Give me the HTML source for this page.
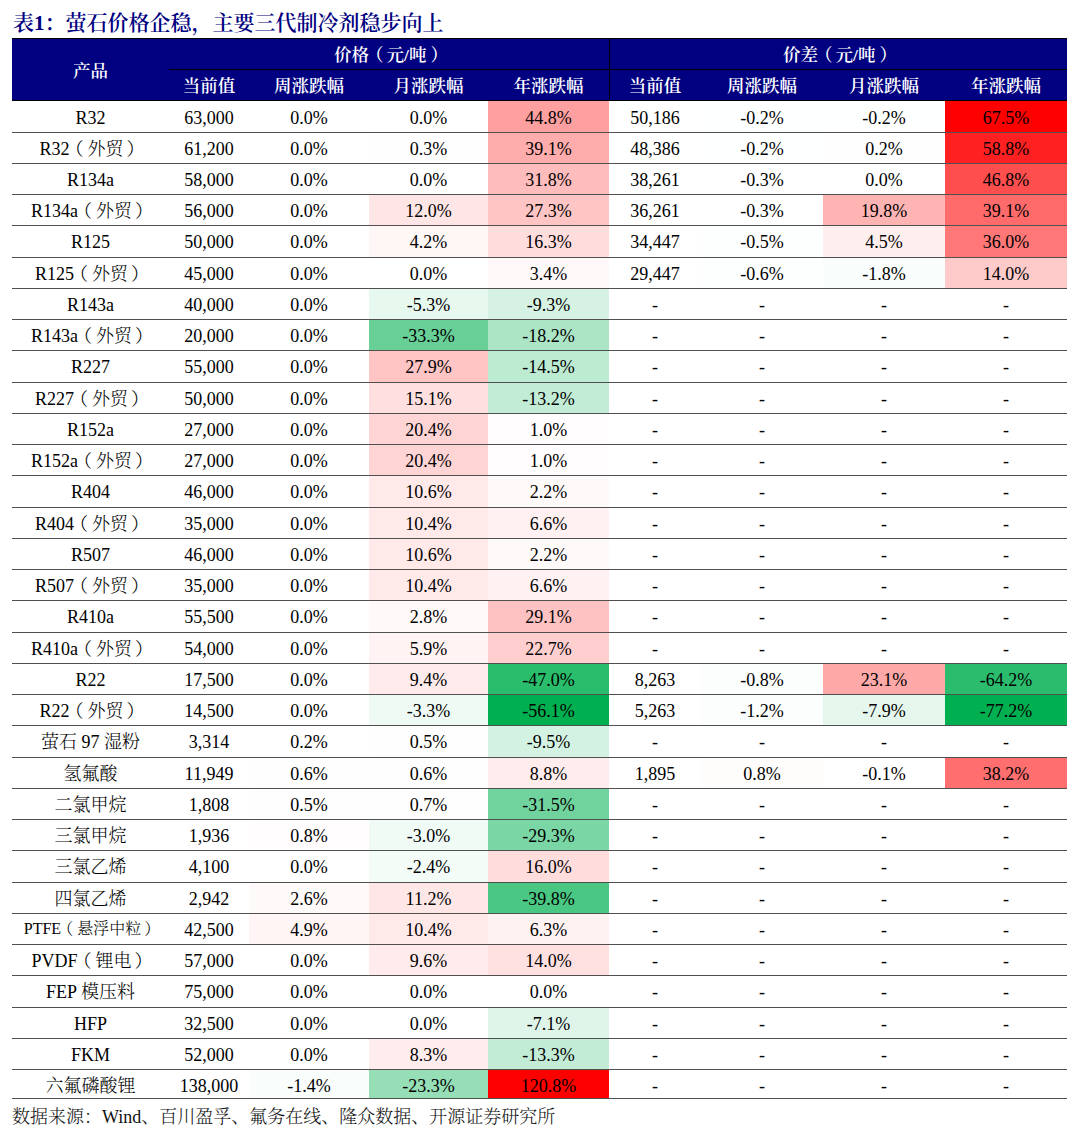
<!DOCTYPE html>
<html lang="zh-CN"><head><meta charset="utf-8"><title>表1</title>
<style>
html,body{margin:0;padding:0;background:#fff;}
body{width:1080px;height:1134px;position:relative;overflow:hidden;}
.title{position:absolute;left:13px;top:8px;font-family:"Liberation Serif","Noto Serif CJK SC",serif;font-weight:600;font-size:21px;line-height:30px;color:#000080;white-space:nowrap;}
.hdr{position:absolute;left:12px;top:38px;width:1055px;height:63px;background:#000080;border-top:1px solid #000;box-sizing:border-box;border-bottom:1px solid #000;}
.h{position:absolute;color:#fff;font-family:"Liberation Serif","Noto Serif CJK SC",serif;font-weight:600;font-size:17.5px;text-align:center;white-space:nowrap;}
.hl{position:absolute;background:#000;}
.bg{position:absolute;}
.c{position:absolute;text-align:center;font-family:"Liberation Serif","Noto Serif CJK SC",serif;font-size:18px;line-height:31px;color:#000;white-space:nowrap;font-weight:300;}
.lp{position:relative;left:-4px;}
.rp{position:relative;left:3px;}
.h .lp{left:-3px;}
.h .rp{left:4px;}
.ln{position:absolute;left:12px;width:1055px;height:1px;background:#505050;}
.src{position:absolute;left:12px;top:1105px;font-family:"Liberation Serif","Noto Serif CJK SC",serif;font-size:18px;line-height:24px;color:#111;font-weight:300;white-space:nowrap;}
</style></head><body>
<div class="title">表1：萤石价格企稳，主要三代制冷剂稳步向上</div>
<div class="hdr"></div>
<div class="hl" style="left:169px;top:69px;width:898px;height:1px"></div>
<div class="hl" style="left:609px;top:38px;width:1px;height:63px"></div>
<div class="h" style="left:12px;width:157px;top:58px;line-height:26px">产品</div>
<div class="h" style="left:169px;width:440px;top:40.5px;line-height:28px">价格<span class="lp">（</span>元/吨<span class="rp">）</span></div>
<div class="h" style="left:609px;width:458px;top:40.5px;line-height:28px">价差<span class="lp">（</span>元/吨<span class="rp">）</span></div>
<div class="h" style="left:169px;width:80px;top:72px;line-height:29px">当前值</div>
<div class="h" style="left:249px;width:120px;top:72px;line-height:29px">周涨跌幅</div>
<div class="h" style="left:369px;width:119px;top:72px;line-height:29px">月涨跌幅</div>
<div class="h" style="left:488px;width:121px;top:72px;line-height:29px">年涨跌幅</div>
<div class="h" style="left:609px;width:92px;top:72px;line-height:29px">当前值</div>
<div class="h" style="left:701px;width:122px;top:72px;line-height:29px">周涨跌幅</div>
<div class="h" style="left:823px;width:122px;top:72px;line-height:29px">月涨跌幅</div>
<div class="h" style="left:945px;width:122px;top:72px;line-height:29px">年涨跌幅</div>
<div class="c" style="left:12px;top:102.95px;width:157px;">R32</div>
<div class="c" style="left:169px;top:102.95px;width:80px;">63,000</div>
<div class="c" style="left:249px;top:102.95px;width:120px;">0.0%</div>
<div class="c" style="left:369px;top:102.95px;width:119px;">0.0%</div>
<div class="bg" style="left:488px;top:101px;width:121px;height:31px;background:#ffa0a0"></div>
<div class="c" style="left:488px;top:102.95px;width:121px;">44.8%</div>
<div class="c" style="left:609px;top:102.95px;width:92px;">50,186</div>
<div class="bg" style="left:701px;top:101px;width:122px;height:31px;background:#feffff"></div>
<div class="c" style="left:701px;top:102.95px;width:122px;">-0.2%</div>
<div class="bg" style="left:823px;top:101px;width:122px;height:31px;background:#feffff"></div>
<div class="c" style="left:823px;top:102.95px;width:122px;">-0.2%</div>
<div class="bg" style="left:945px;top:101px;width:122px;height:31px;background:#ff0000"></div>
<div class="c" style="left:945px;top:102.95px;width:122px;">67.5%</div>
<div class="c" style="left:12px;top:134.20px;width:157px;">R32<span class="lp">（</span>外贸<span class="rp">）</span></div>
<div class="c" style="left:169px;top:134.20px;width:80px;">61,200</div>
<div class="c" style="left:249px;top:134.20px;width:120px;">0.0%</div>
<div class="bg" style="left:369px;top:133px;width:119px;height:30px;background:#fffefe"></div>
<div class="c" style="left:369px;top:134.20px;width:119px;">0.3%</div>
<div class="bg" style="left:488px;top:133px;width:121px;height:30px;background:#ffacac"></div>
<div class="c" style="left:488px;top:134.20px;width:121px;">39.1%</div>
<div class="c" style="left:609px;top:134.20px;width:92px;">48,386</div>
<div class="bg" style="left:701px;top:133px;width:122px;height:30px;background:#feffff"></div>
<div class="c" style="left:701px;top:134.20px;width:122px;">-0.2%</div>
<div class="bg" style="left:823px;top:133px;width:122px;height:30px;background:#fffefe"></div>
<div class="c" style="left:823px;top:134.20px;width:122px;">0.2%</div>
<div class="bg" style="left:945px;top:133px;width:122px;height:30px;background:#ff2121"></div>
<div class="c" style="left:945px;top:134.20px;width:122px;">58.8%</div>
<div class="c" style="left:12px;top:165.00px;width:157px;">R134a</div>
<div class="c" style="left:169px;top:165.00px;width:80px;">58,000</div>
<div class="c" style="left:249px;top:165.00px;width:120px;">0.0%</div>
<div class="c" style="left:369px;top:165.00px;width:119px;">0.0%</div>
<div class="bg" style="left:488px;top:164px;width:121px;height:30px;background:#ffbcbc"></div>
<div class="c" style="left:488px;top:165.00px;width:121px;">31.8%</div>
<div class="c" style="left:609px;top:165.00px;width:92px;">38,261</div>
<div class="bg" style="left:701px;top:164px;width:122px;height:30px;background:#fefffe"></div>
<div class="c" style="left:701px;top:165.00px;width:122px;">-0.3%</div>
<div class="c" style="left:823px;top:165.00px;width:122px;">0.0%</div>
<div class="bg" style="left:945px;top:164px;width:122px;height:30px;background:#ff4e4e"></div>
<div class="c" style="left:945px;top:165.00px;width:122px;">46.8%</div>
<div class="c" style="left:12px;top:196.20px;width:157px;">R134a<span class="lp">（</span>外贸<span class="rp">）</span></div>
<div class="c" style="left:169px;top:196.20px;width:80px;">56,000</div>
<div class="c" style="left:249px;top:196.20px;width:120px;">0.0%</div>
<div class="bg" style="left:369px;top:195px;width:119px;height:30px;background:#ffe6e6"></div>
<div class="c" style="left:369px;top:196.20px;width:119px;">12.0%</div>
<div class="bg" style="left:488px;top:195px;width:121px;height:30px;background:#ffc5c5"></div>
<div class="c" style="left:488px;top:196.20px;width:121px;">27.3%</div>
<div class="c" style="left:609px;top:196.20px;width:92px;">36,261</div>
<div class="bg" style="left:701px;top:195px;width:122px;height:30px;background:#fefffe"></div>
<div class="c" style="left:701px;top:196.20px;width:122px;">-0.3%</div>
<div class="bg" style="left:823px;top:195px;width:122px;height:30px;background:#ffb4b4"></div>
<div class="c" style="left:823px;top:196.20px;width:122px;">19.8%</div>
<div class="bg" style="left:945px;top:195px;width:122px;height:30px;background:#ff6b6b"></div>
<div class="c" style="left:945px;top:196.20px;width:122px;">39.1%</div>
<div class="c" style="left:12px;top:227.25px;width:157px;">R125</div>
<div class="c" style="left:169px;top:227.25px;width:80px;">50,000</div>
<div class="c" style="left:249px;top:227.25px;width:120px;">0.0%</div>
<div class="bg" style="left:369px;top:226px;width:119px;height:31px;background:#fff6f6"></div>
<div class="c" style="left:369px;top:227.25px;width:119px;">4.2%</div>
<div class="bg" style="left:488px;top:226px;width:121px;height:31px;background:#ffdddd"></div>
<div class="c" style="left:488px;top:227.25px;width:121px;">16.3%</div>
<div class="c" style="left:609px;top:227.25px;width:92px;">34,447</div>
<div class="bg" style="left:701px;top:226px;width:122px;height:31px;background:#fdfefe"></div>
<div class="c" style="left:701px;top:227.25px;width:122px;">-0.5%</div>
<div class="bg" style="left:823px;top:226px;width:122px;height:31px;background:#ffeeee"></div>
<div class="c" style="left:823px;top:227.25px;width:122px;">4.5%</div>
<div class="bg" style="left:945px;top:226px;width:122px;height:31px;background:#ff7777"></div>
<div class="c" style="left:945px;top:227.25px;width:122px;">36.0%</div>
<div class="c" style="left:12px;top:259.20px;width:157px;">R125<span class="lp">（</span>外贸<span class="rp">）</span></div>
<div class="c" style="left:169px;top:259.20px;width:80px;">45,000</div>
<div class="c" style="left:249px;top:259.20px;width:120px;">0.0%</div>
<div class="c" style="left:369px;top:259.20px;width:119px;">0.0%</div>
<div class="bg" style="left:488px;top:258px;width:121px;height:30px;background:#fff8f8"></div>
<div class="c" style="left:488px;top:259.20px;width:121px;">3.4%</div>
<div class="c" style="left:609px;top:259.20px;width:92px;">29,447</div>
<div class="bg" style="left:701px;top:258px;width:122px;height:30px;background:#fdfefe"></div>
<div class="c" style="left:701px;top:259.20px;width:122px;">-0.6%</div>
<div class="bg" style="left:823px;top:258px;width:122px;height:30px;background:#f9fdfb"></div>
<div class="c" style="left:823px;top:259.20px;width:122px;">-1.8%</div>
<div class="bg" style="left:945px;top:258px;width:122px;height:30px;background:#ffcaca"></div>
<div class="c" style="left:945px;top:259.20px;width:122px;">14.0%</div>
<div class="c" style="left:12px;top:290.00px;width:157px;">R143a</div>
<div class="c" style="left:169px;top:290.00px;width:80px;">40,000</div>
<div class="c" style="left:249px;top:290.00px;width:120px;">0.0%</div>
<div class="bg" style="left:369px;top:289px;width:119px;height:30px;background:#e7f8ee"></div>
<div class="c" style="left:369px;top:290.00px;width:119px;">-5.3%</div>
<div class="bg" style="left:488px;top:289px;width:121px;height:30px;background:#d5f2e2"></div>
<div class="c" style="left:488px;top:290.00px;width:121px;">-9.3%</div>
<div class="c" style="left:609px;top:290.00px;width:92px;">-</div>
<div class="c" style="left:701px;top:290.00px;width:122px;">-</div>
<div class="c" style="left:823px;top:290.00px;width:122px;">-</div>
<div class="c" style="left:945px;top:290.00px;width:122px;">-</div>
<div class="c" style="left:12px;top:321.20px;width:157px;">R143a<span class="lp">（</span>外贸<span class="rp">）</span></div>
<div class="c" style="left:169px;top:321.20px;width:80px;">20,000</div>
<div class="c" style="left:249px;top:321.20px;width:120px;">0.0%</div>
<div class="bg" style="left:369px;top:320px;width:119px;height:30px;background:#68d097"></div>
<div class="c" style="left:369px;top:321.20px;width:119px;">-33.3%</div>
<div class="bg" style="left:488px;top:320px;width:121px;height:30px;background:#ace5c6"></div>
<div class="c" style="left:488px;top:321.20px;width:121px;">-18.2%</div>
<div class="c" style="left:609px;top:321.20px;width:92px;">-</div>
<div class="c" style="left:701px;top:321.20px;width:122px;">-</div>
<div class="c" style="left:823px;top:321.20px;width:122px;">-</div>
<div class="c" style="left:945px;top:321.20px;width:122px;">-</div>
<div class="c" style="left:12px;top:352.25px;width:157px;">R227</div>
<div class="c" style="left:169px;top:352.25px;width:80px;">55,000</div>
<div class="c" style="left:249px;top:352.25px;width:120px;">0.0%</div>
<div class="bg" style="left:369px;top:351px;width:119px;height:31px;background:#ffc4c4"></div>
<div class="c" style="left:369px;top:352.25px;width:119px;">27.9%</div>
<div class="bg" style="left:488px;top:351px;width:121px;height:31px;background:#bdebd2"></div>
<div class="c" style="left:488px;top:352.25px;width:121px;">-14.5%</div>
<div class="c" style="left:609px;top:352.25px;width:92px;">-</div>
<div class="c" style="left:701px;top:352.25px;width:122px;">-</div>
<div class="c" style="left:823px;top:352.25px;width:122px;">-</div>
<div class="c" style="left:945px;top:352.25px;width:122px;">-</div>
<div class="c" style="left:12px;top:384.20px;width:157px;">R227<span class="lp">（</span>外贸<span class="rp">）</span></div>
<div class="c" style="left:169px;top:384.20px;width:80px;">50,000</div>
<div class="c" style="left:249px;top:384.20px;width:120px;">0.0%</div>
<div class="bg" style="left:369px;top:383px;width:119px;height:30px;background:#ffdfdf"></div>
<div class="c" style="left:369px;top:384.20px;width:119px;">15.1%</div>
<div class="bg" style="left:488px;top:383px;width:121px;height:30px;background:#c3ecd6"></div>
<div class="c" style="left:488px;top:384.20px;width:121px;">-13.2%</div>
<div class="c" style="left:609px;top:384.20px;width:92px;">-</div>
<div class="c" style="left:701px;top:384.20px;width:122px;">-</div>
<div class="c" style="left:823px;top:384.20px;width:122px;">-</div>
<div class="c" style="left:945px;top:384.20px;width:122px;">-</div>
<div class="c" style="left:12px;top:415.00px;width:157px;">R152a</div>
<div class="c" style="left:169px;top:415.00px;width:80px;">27,000</div>
<div class="c" style="left:249px;top:415.00px;width:120px;">0.0%</div>
<div class="bg" style="left:369px;top:414px;width:119px;height:30px;background:#ffd4d4"></div>
<div class="c" style="left:369px;top:415.00px;width:119px;">20.4%</div>
<div class="bg" style="left:488px;top:414px;width:121px;height:30px;background:#fffdfd"></div>
<div class="c" style="left:488px;top:415.00px;width:121px;">1.0%</div>
<div class="c" style="left:609px;top:415.00px;width:92px;">-</div>
<div class="c" style="left:701px;top:415.00px;width:122px;">-</div>
<div class="c" style="left:823px;top:415.00px;width:122px;">-</div>
<div class="c" style="left:945px;top:415.00px;width:122px;">-</div>
<div class="c" style="left:12px;top:446.20px;width:157px;">R152a<span class="lp">（</span>外贸<span class="rp">）</span></div>
<div class="c" style="left:169px;top:446.20px;width:80px;">27,000</div>
<div class="c" style="left:249px;top:446.20px;width:120px;">0.0%</div>
<div class="bg" style="left:369px;top:445px;width:119px;height:30px;background:#ffd4d4"></div>
<div class="c" style="left:369px;top:446.20px;width:119px;">20.4%</div>
<div class="bg" style="left:488px;top:445px;width:121px;height:30px;background:#fffdfd"></div>
<div class="c" style="left:488px;top:446.20px;width:121px;">1.0%</div>
<div class="c" style="left:609px;top:446.20px;width:92px;">-</div>
<div class="c" style="left:701px;top:446.20px;width:122px;">-</div>
<div class="c" style="left:823px;top:446.20px;width:122px;">-</div>
<div class="c" style="left:945px;top:446.20px;width:122px;">-</div>
<div class="c" style="left:12px;top:477.25px;width:157px;">R404</div>
<div class="c" style="left:169px;top:477.25px;width:80px;">46,000</div>
<div class="c" style="left:249px;top:477.25px;width:120px;">0.0%</div>
<div class="bg" style="left:369px;top:476px;width:119px;height:31px;background:#ffe9e9"></div>
<div class="c" style="left:369px;top:477.25px;width:119px;">10.6%</div>
<div class="bg" style="left:488px;top:476px;width:121px;height:31px;background:#fffafa"></div>
<div class="c" style="left:488px;top:477.25px;width:121px;">2.2%</div>
<div class="c" style="left:609px;top:477.25px;width:92px;">-</div>
<div class="c" style="left:701px;top:477.25px;width:122px;">-</div>
<div class="c" style="left:823px;top:477.25px;width:122px;">-</div>
<div class="c" style="left:945px;top:477.25px;width:122px;">-</div>
<div class="c" style="left:12px;top:509.20px;width:157px;">R404<span class="lp">（</span>外贸<span class="rp">）</span></div>
<div class="c" style="left:169px;top:509.20px;width:80px;">35,000</div>
<div class="c" style="left:249px;top:509.20px;width:120px;">0.0%</div>
<div class="bg" style="left:369px;top:508px;width:119px;height:30px;background:#ffe9e9"></div>
<div class="c" style="left:369px;top:509.20px;width:119px;">10.4%</div>
<div class="bg" style="left:488px;top:508px;width:121px;height:30px;background:#fff1f1"></div>
<div class="c" style="left:488px;top:509.20px;width:121px;">6.6%</div>
<div class="c" style="left:609px;top:509.20px;width:92px;">-</div>
<div class="c" style="left:701px;top:509.20px;width:122px;">-</div>
<div class="c" style="left:823px;top:509.20px;width:122px;">-</div>
<div class="c" style="left:945px;top:509.20px;width:122px;">-</div>
<div class="c" style="left:12px;top:540.00px;width:157px;">R507</div>
<div class="c" style="left:169px;top:540.00px;width:80px;">46,000</div>
<div class="c" style="left:249px;top:540.00px;width:120px;">0.0%</div>
<div class="bg" style="left:369px;top:539px;width:119px;height:30px;background:#ffe9e9"></div>
<div class="c" style="left:369px;top:540.00px;width:119px;">10.6%</div>
<div class="bg" style="left:488px;top:539px;width:121px;height:30px;background:#fffafa"></div>
<div class="c" style="left:488px;top:540.00px;width:121px;">2.2%</div>
<div class="c" style="left:609px;top:540.00px;width:92px;">-</div>
<div class="c" style="left:701px;top:540.00px;width:122px;">-</div>
<div class="c" style="left:823px;top:540.00px;width:122px;">-</div>
<div class="c" style="left:945px;top:540.00px;width:122px;">-</div>
<div class="c" style="left:12px;top:571.20px;width:157px;">R507<span class="lp">（</span>外贸<span class="rp">）</span></div>
<div class="c" style="left:169px;top:571.20px;width:80px;">35,000</div>
<div class="c" style="left:249px;top:571.20px;width:120px;">0.0%</div>
<div class="bg" style="left:369px;top:570px;width:119px;height:30px;background:#ffe9e9"></div>
<div class="c" style="left:369px;top:571.20px;width:119px;">10.4%</div>
<div class="bg" style="left:488px;top:570px;width:121px;height:30px;background:#fff1f1"></div>
<div class="c" style="left:488px;top:571.20px;width:121px;">6.6%</div>
<div class="c" style="left:609px;top:571.20px;width:92px;">-</div>
<div class="c" style="left:701px;top:571.20px;width:122px;">-</div>
<div class="c" style="left:823px;top:571.20px;width:122px;">-</div>
<div class="c" style="left:945px;top:571.20px;width:122px;">-</div>
<div class="c" style="left:12px;top:602.25px;width:157px;">R410a</div>
<div class="c" style="left:169px;top:602.25px;width:80px;">55,500</div>
<div class="c" style="left:249px;top:602.25px;width:120px;">0.0%</div>
<div class="bg" style="left:369px;top:601px;width:119px;height:31px;background:#fff9f9"></div>
<div class="c" style="left:369px;top:602.25px;width:119px;">2.8%</div>
<div class="bg" style="left:488px;top:601px;width:121px;height:31px;background:#ffc2c2"></div>
<div class="c" style="left:488px;top:602.25px;width:121px;">29.1%</div>
<div class="c" style="left:609px;top:602.25px;width:92px;">-</div>
<div class="c" style="left:701px;top:602.25px;width:122px;">-</div>
<div class="c" style="left:823px;top:602.25px;width:122px;">-</div>
<div class="c" style="left:945px;top:602.25px;width:122px;">-</div>
<div class="c" style="left:12px;top:634.20px;width:157px;">R410a<span class="lp">（</span>外贸<span class="rp">）</span></div>
<div class="c" style="left:169px;top:634.20px;width:80px;">54,000</div>
<div class="c" style="left:249px;top:634.20px;width:120px;">0.0%</div>
<div class="bg" style="left:369px;top:633px;width:119px;height:30px;background:#fff3f3"></div>
<div class="c" style="left:369px;top:634.20px;width:119px;">5.9%</div>
<div class="bg" style="left:488px;top:633px;width:121px;height:30px;background:#ffcfcf"></div>
<div class="c" style="left:488px;top:634.20px;width:121px;">22.7%</div>
<div class="c" style="left:609px;top:634.20px;width:92px;">-</div>
<div class="c" style="left:701px;top:634.20px;width:122px;">-</div>
<div class="c" style="left:823px;top:634.20px;width:122px;">-</div>
<div class="c" style="left:945px;top:634.20px;width:122px;">-</div>
<div class="c" style="left:12px;top:665.00px;width:157px;">R22</div>
<div class="c" style="left:169px;top:665.00px;width:80px;">17,500</div>
<div class="c" style="left:249px;top:665.00px;width:120px;">0.0%</div>
<div class="bg" style="left:369px;top:664px;width:119px;height:30px;background:#ffebeb"></div>
<div class="c" style="left:369px;top:665.00px;width:119px;">9.4%</div>
<div class="bg" style="left:488px;top:664px;width:121px;height:30px;background:#29bd6c"></div>
<div class="c" style="left:488px;top:665.00px;width:121px;">-47.0%</div>
<div class="c" style="left:609px;top:665.00px;width:92px;">8,263</div>
<div class="bg" style="left:701px;top:664px;width:122px;height:30px;background:#fcfefd"></div>
<div class="c" style="left:701px;top:665.00px;width:122px;">-0.8%</div>
<div class="bg" style="left:823px;top:664px;width:122px;height:30px;background:#ffa8a8"></div>
<div class="c" style="left:823px;top:665.00px;width:122px;">23.1%</div>
<div class="bg" style="left:945px;top:664px;width:122px;height:30px;background:#2bbd6d"></div>
<div class="c" style="left:945px;top:665.00px;width:122px;">-64.2%</div>
<div class="c" style="left:12px;top:696.20px;width:157px;">R22<span class="lp">（</span>外贸<span class="rp">）</span></div>
<div class="c" style="left:169px;top:696.20px;width:80px;">14,500</div>
<div class="c" style="left:249px;top:696.20px;width:120px;">0.0%</div>
<div class="bg" style="left:369px;top:695px;width:119px;height:30px;background:#f0faf5"></div>
<div class="c" style="left:369px;top:696.20px;width:119px;">-3.3%</div>
<div class="bg" style="left:488px;top:695px;width:121px;height:30px;background:#00b050"></div>
<div class="c" style="left:488px;top:696.20px;width:121px;">-56.1%</div>
<div class="c" style="left:609px;top:696.20px;width:92px;">5,263</div>
<div class="bg" style="left:701px;top:695px;width:122px;height:30px;background:#fbfefc"></div>
<div class="c" style="left:701px;top:696.20px;width:122px;">-1.2%</div>
<div class="bg" style="left:823px;top:695px;width:122px;height:30px;background:#e5f7ed"></div>
<div class="c" style="left:823px;top:696.20px;width:122px;">-7.9%</div>
<div class="bg" style="left:945px;top:695px;width:122px;height:30px;background:#00b050"></div>
<div class="c" style="left:945px;top:696.20px;width:122px;">-77.2%</div>
<div class="c" style="left:12px;top:727.25px;width:157px;">萤石 97 湿粉</div>
<div class="c" style="left:169px;top:727.25px;width:80px;">3,314</div>
<div class="c" style="left:249px;top:727.25px;width:120px;">0.2%</div>
<div class="bg" style="left:369px;top:726px;width:119px;height:31px;background:#fffefe"></div>
<div class="c" style="left:369px;top:727.25px;width:119px;">0.5%</div>
<div class="bg" style="left:488px;top:726px;width:121px;height:31px;background:#d4f2e1"></div>
<div class="c" style="left:488px;top:727.25px;width:121px;">-9.5%</div>
<div class="c" style="left:609px;top:727.25px;width:92px;">-</div>
<div class="c" style="left:701px;top:727.25px;width:122px;">-</div>
<div class="c" style="left:823px;top:727.25px;width:122px;">-</div>
<div class="c" style="left:945px;top:727.25px;width:122px;">-</div>
<div class="c" style="left:12px;top:759.20px;width:157px;">氢氟酸</div>
<div class="c" style="left:169px;top:759.20px;width:80px;">11,949</div>
<div class="bg" style="left:249px;top:758px;width:120px;height:30px;background:#fffefe"></div>
<div class="c" style="left:249px;top:759.20px;width:120px;">0.6%</div>
<div class="bg" style="left:369px;top:758px;width:119px;height:30px;background:#fffefe"></div>
<div class="c" style="left:369px;top:759.20px;width:119px;">0.6%</div>
<div class="bg" style="left:488px;top:758px;width:121px;height:30px;background:#ffecec"></div>
<div class="c" style="left:488px;top:759.20px;width:121px;">8.8%</div>
<div class="c" style="left:609px;top:759.20px;width:92px;">1,895</div>
<div class="bg" style="left:701px;top:758px;width:122px;height:30px;background:#fffcfc"></div>
<div class="c" style="left:701px;top:759.20px;width:122px;">0.8%</div>
<div class="c" style="left:823px;top:759.20px;width:122px;">-0.1%</div>
<div class="bg" style="left:945px;top:758px;width:122px;height:30px;background:#ff6f6f"></div>
<div class="c" style="left:945px;top:759.20px;width:122px;">38.2%</div>
<div class="c" style="left:12px;top:790.00px;width:157px;">二氯甲烷</div>
<div class="c" style="left:169px;top:790.00px;width:80px;">1,808</div>
<div class="bg" style="left:249px;top:789px;width:120px;height:30px;background:#fffefe"></div>
<div class="c" style="left:249px;top:790.00px;width:120px;">0.5%</div>
<div class="bg" style="left:369px;top:789px;width:119px;height:30px;background:#fffefe"></div>
<div class="c" style="left:369px;top:790.00px;width:119px;">0.7%</div>
<div class="bg" style="left:488px;top:789px;width:121px;height:30px;background:#70d39d"></div>
<div class="c" style="left:488px;top:790.00px;width:121px;">-31.5%</div>
<div class="c" style="left:609px;top:790.00px;width:92px;">-</div>
<div class="c" style="left:701px;top:790.00px;width:122px;">-</div>
<div class="c" style="left:823px;top:790.00px;width:122px;">-</div>
<div class="c" style="left:945px;top:790.00px;width:122px;">-</div>
<div class="c" style="left:12px;top:821.20px;width:157px;">三氯甲烷</div>
<div class="c" style="left:169px;top:821.20px;width:80px;">1,936</div>
<div class="bg" style="left:249px;top:820px;width:120px;height:30px;background:#fffdfd"></div>
<div class="c" style="left:249px;top:821.20px;width:120px;">0.8%</div>
<div class="bg" style="left:369px;top:820px;width:119px;height:30px;background:#f1fbf6"></div>
<div class="c" style="left:369px;top:821.20px;width:119px;">-3.0%</div>
<div class="bg" style="left:488px;top:820px;width:121px;height:30px;background:#7ad6a4"></div>
<div class="c" style="left:488px;top:821.20px;width:121px;">-29.3%</div>
<div class="c" style="left:609px;top:821.20px;width:92px;">-</div>
<div class="c" style="left:701px;top:821.20px;width:122px;">-</div>
<div class="c" style="left:823px;top:821.20px;width:122px;">-</div>
<div class="c" style="left:945px;top:821.20px;width:122px;">-</div>
<div class="c" style="left:12px;top:852.25px;width:157px;">三氯乙烯</div>
<div class="c" style="left:169px;top:852.25px;width:80px;">4,100</div>
<div class="c" style="left:249px;top:852.25px;width:120px;">0.0%</div>
<div class="bg" style="left:369px;top:851px;width:119px;height:31px;background:#f4fcf8"></div>
<div class="c" style="left:369px;top:852.25px;width:119px;">-2.4%</div>
<div class="bg" style="left:488px;top:851px;width:121px;height:31px;background:#ffdddd"></div>
<div class="c" style="left:488px;top:852.25px;width:121px;">16.0%</div>
<div class="c" style="left:609px;top:852.25px;width:92px;">-</div>
<div class="c" style="left:701px;top:852.25px;width:122px;">-</div>
<div class="c" style="left:823px;top:852.25px;width:122px;">-</div>
<div class="c" style="left:945px;top:852.25px;width:122px;">-</div>
<div class="c" style="left:12px;top:884.20px;width:157px;">四氯乙烯</div>
<div class="c" style="left:169px;top:884.20px;width:80px;">2,942</div>
<div class="bg" style="left:249px;top:883px;width:120px;height:30px;background:#fffafa"></div>
<div class="c" style="left:249px;top:884.20px;width:120px;">2.6%</div>
<div class="bg" style="left:369px;top:883px;width:119px;height:30px;background:#ffe7e7"></div>
<div class="c" style="left:369px;top:884.20px;width:119px;">11.2%</div>
<div class="bg" style="left:488px;top:883px;width:121px;height:30px;background:#4ac783"></div>
<div class="c" style="left:488px;top:884.20px;width:121px;">-39.8%</div>
<div class="c" style="left:609px;top:884.20px;width:92px;">-</div>
<div class="c" style="left:701px;top:884.20px;width:122px;">-</div>
<div class="c" style="left:823px;top:884.20px;width:122px;">-</div>
<div class="c" style="left:945px;top:884.20px;width:122px;">-</div>
<div class="c" style="left:12px;top:915.00px;width:157px;font-size:16px;margin-top:-2px;">PTFE<span class="lp">（</span>悬浮中粒<span class="rp">）</span></div>
<div class="c" style="left:169px;top:915.00px;width:80px;">42,500</div>
<div class="bg" style="left:249px;top:914px;width:120px;height:30px;background:#fff5f5"></div>
<div class="c" style="left:249px;top:915.00px;width:120px;">4.9%</div>
<div class="bg" style="left:369px;top:914px;width:119px;height:30px;background:#ffe9e9"></div>
<div class="c" style="left:369px;top:915.00px;width:119px;">10.4%</div>
<div class="bg" style="left:488px;top:914px;width:121px;height:30px;background:#fff2f2"></div>
<div class="c" style="left:488px;top:915.00px;width:121px;">6.3%</div>
<div class="c" style="left:609px;top:915.00px;width:92px;">-</div>
<div class="c" style="left:701px;top:915.00px;width:122px;">-</div>
<div class="c" style="left:823px;top:915.00px;width:122px;">-</div>
<div class="c" style="left:945px;top:915.00px;width:122px;">-</div>
<div class="c" style="left:12px;top:946.20px;width:157px;">PVDF<span class="lp">（</span>锂电<span class="rp">）</span></div>
<div class="c" style="left:169px;top:946.20px;width:80px;">57,000</div>
<div class="c" style="left:249px;top:946.20px;width:120px;">0.0%</div>
<div class="bg" style="left:369px;top:945px;width:119px;height:30px;background:#ffebeb"></div>
<div class="c" style="left:369px;top:946.20px;width:119px;">9.6%</div>
<div class="bg" style="left:488px;top:945px;width:121px;height:30px;background:#ffe1e1"></div>
<div class="c" style="left:488px;top:946.20px;width:121px;">14.0%</div>
<div class="c" style="left:609px;top:946.20px;width:92px;">-</div>
<div class="c" style="left:701px;top:946.20px;width:122px;">-</div>
<div class="c" style="left:823px;top:946.20px;width:122px;">-</div>
<div class="c" style="left:945px;top:946.20px;width:122px;">-</div>
<div class="c" style="left:12px;top:977.25px;width:157px;">FEP 模压料</div>
<div class="c" style="left:169px;top:977.25px;width:80px;">75,000</div>
<div class="c" style="left:249px;top:977.25px;width:120px;">0.0%</div>
<div class="c" style="left:369px;top:977.25px;width:119px;">0.0%</div>
<div class="c" style="left:488px;top:977.25px;width:121px;">0.0%</div>
<div class="c" style="left:609px;top:977.25px;width:92px;">-</div>
<div class="c" style="left:701px;top:977.25px;width:122px;">-</div>
<div class="c" style="left:823px;top:977.25px;width:122px;">-</div>
<div class="c" style="left:945px;top:977.25px;width:122px;">-</div>
<div class="c" style="left:12px;top:1009.20px;width:157px;">HFP</div>
<div class="c" style="left:169px;top:1009.20px;width:80px;">32,500</div>
<div class="c" style="left:249px;top:1009.20px;width:120px;">0.0%</div>
<div class="c" style="left:369px;top:1009.20px;width:119px;">0.0%</div>
<div class="bg" style="left:488px;top:1008px;width:121px;height:30px;background:#dff5e9"></div>
<div class="c" style="left:488px;top:1009.20px;width:121px;">-7.1%</div>
<div class="c" style="left:609px;top:1009.20px;width:92px;">-</div>
<div class="c" style="left:701px;top:1009.20px;width:122px;">-</div>
<div class="c" style="left:823px;top:1009.20px;width:122px;">-</div>
<div class="c" style="left:945px;top:1009.20px;width:122px;">-</div>
<div class="c" style="left:12px;top:1040.00px;width:157px;">FKM</div>
<div class="c" style="left:169px;top:1040.00px;width:80px;">52,000</div>
<div class="c" style="left:249px;top:1040.00px;width:120px;">0.0%</div>
<div class="bg" style="left:369px;top:1039px;width:119px;height:30px;background:#ffeded"></div>
<div class="c" style="left:369px;top:1040.00px;width:119px;">8.3%</div>
<div class="bg" style="left:488px;top:1039px;width:121px;height:30px;background:#c3ecd6"></div>
<div class="c" style="left:488px;top:1040.00px;width:121px;">-13.3%</div>
<div class="c" style="left:609px;top:1040.00px;width:92px;">-</div>
<div class="c" style="left:701px;top:1040.00px;width:122px;">-</div>
<div class="c" style="left:823px;top:1040.00px;width:122px;">-</div>
<div class="c" style="left:945px;top:1040.00px;width:122px;">-</div>
<div class="c" style="left:12px;top:1071.20px;width:157px;">六氟磷酸锂</div>
<div class="c" style="left:169px;top:1071.20px;width:80px;">138,000</div>
<div class="bg" style="left:249px;top:1070px;width:120px;height:28px;background:#f9fdfb"></div>
<div class="c" style="left:249px;top:1071.20px;width:120px;">-1.4%</div>
<div class="bg" style="left:369px;top:1070px;width:119px;height:28px;background:#95deb6"></div>
<div class="c" style="left:369px;top:1071.20px;width:119px;">-23.3%</div>
<div class="bg" style="left:488px;top:1070px;width:121px;height:28px;background:#ff0000"></div>
<div class="c" style="left:488px;top:1071.20px;width:121px;">120.8%</div>
<div class="c" style="left:609px;top:1071.20px;width:92px;">-</div>
<div class="c" style="left:701px;top:1071.20px;width:122px;">-</div>
<div class="c" style="left:823px;top:1071.20px;width:122px;">-</div>
<div class="c" style="left:945px;top:1071.20px;width:122px;">-</div>
<div class="ln" style="top:132px"></div>
<div class="ln" style="top:163px"></div>
<div class="ln" style="top:194px"></div>
<div class="ln" style="top:225px"></div>
<div class="ln" style="top:257px"></div>
<div class="ln" style="top:288px"></div>
<div class="ln" style="top:319px"></div>
<div class="ln" style="top:350px"></div>
<div class="ln" style="top:382px"></div>
<div class="ln" style="top:413px"></div>
<div class="ln" style="top:444px"></div>
<div class="ln" style="top:475px"></div>
<div class="ln" style="top:507px"></div>
<div class="ln" style="top:538px"></div>
<div class="ln" style="top:569px"></div>
<div class="ln" style="top:600px"></div>
<div class="ln" style="top:632px"></div>
<div class="ln" style="top:663px"></div>
<div class="ln" style="top:694px"></div>
<div class="ln" style="top:725px"></div>
<div class="ln" style="top:757px"></div>
<div class="ln" style="top:788px"></div>
<div class="ln" style="top:819px"></div>
<div class="ln" style="top:850px"></div>
<div class="ln" style="top:882px"></div>
<div class="ln" style="top:913px"></div>
<div class="ln" style="top:944px"></div>
<div class="ln" style="top:975px"></div>
<div class="ln" style="top:1007px"></div>
<div class="ln" style="top:1038px"></div>
<div class="ln" style="top:1069px"></div>
<div class="ln" style="top:1098px"></div>
<div class="src">数据来源：Wind、百川盈孚、氟务在线、隆众数据、开源证券研究所</div>
</body></html>
